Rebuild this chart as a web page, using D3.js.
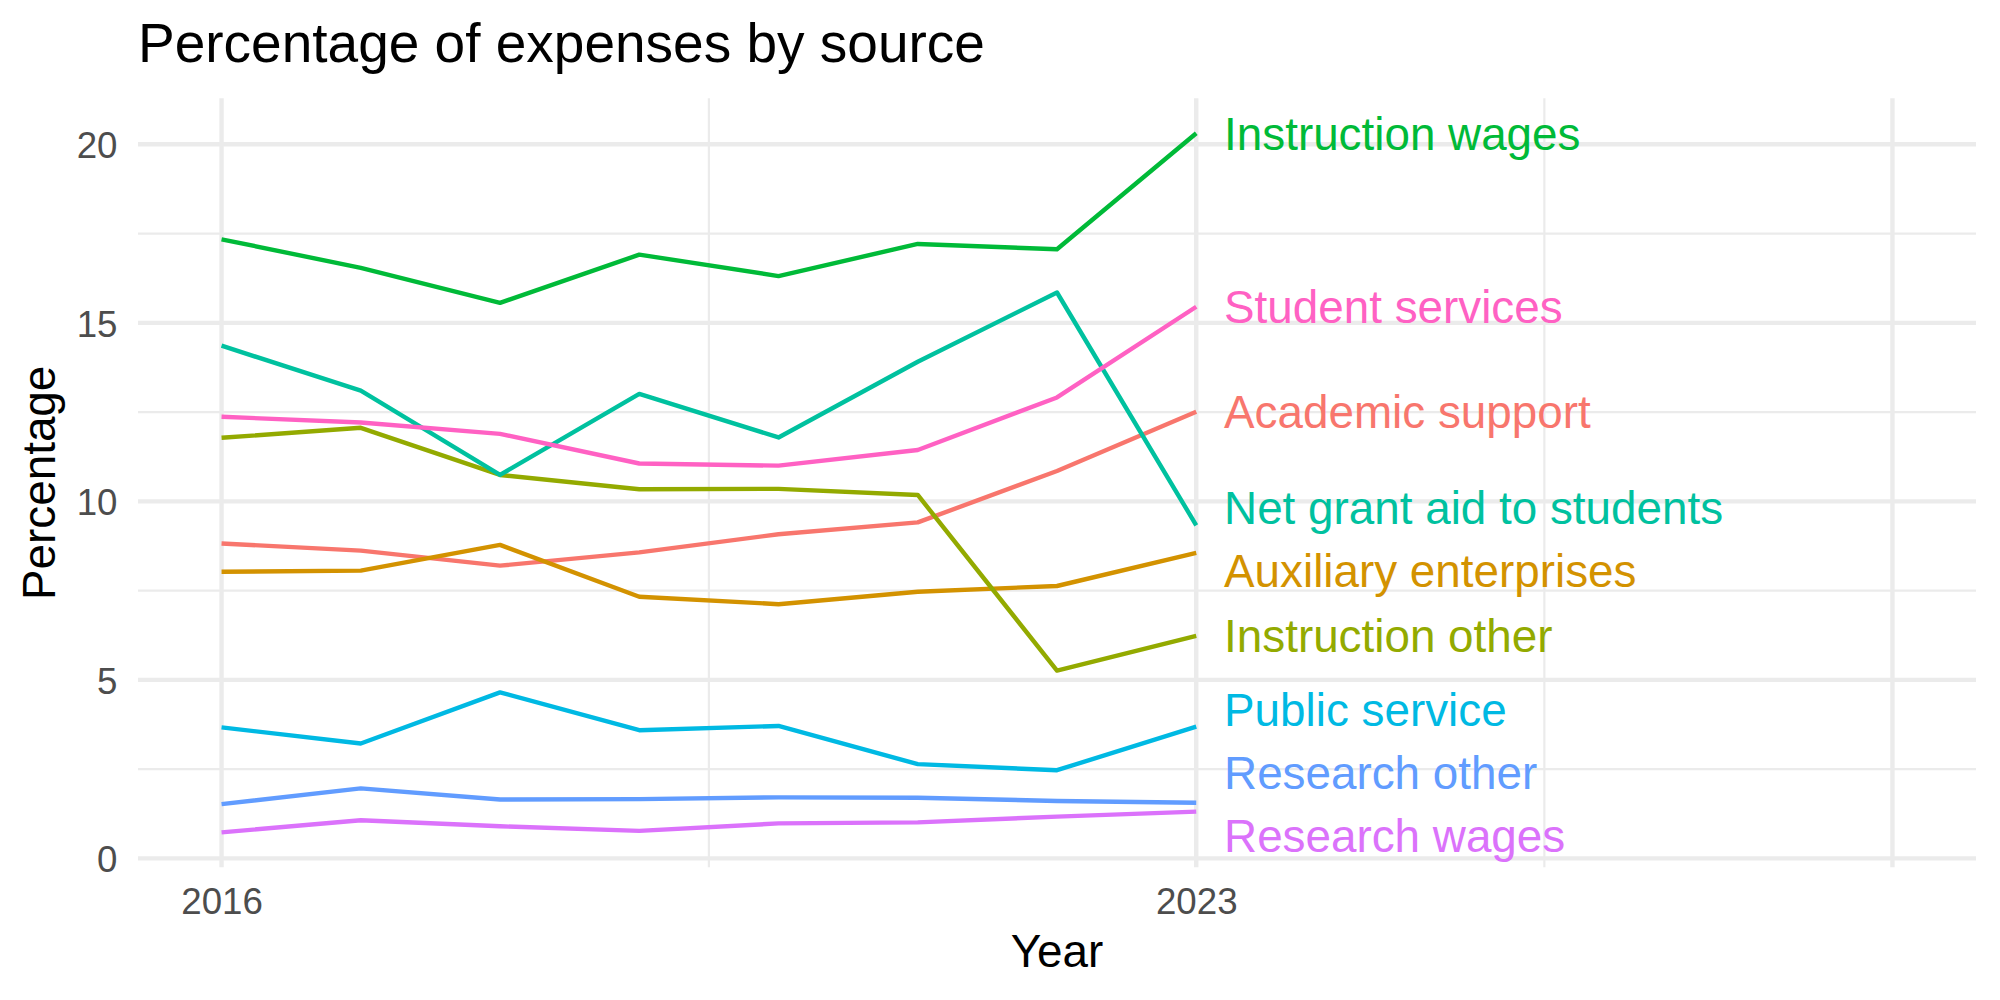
<!DOCTYPE html>
<html>
<head>
<meta charset="utf-8">
<script src="https://cdn.jsdelivr.net/npm/d3@7"></script>
<style>
  body { margin: 0; background: #fff; }
  svg text { font-family: "Liberation Sans", Arial, Helvetica, sans-serif; }
</style>
</head>
<body>
<div id="chart"></div>
<script>
// DATA
const years = [2016, 2017, 2018, 2019, 2020, 2021, 2022, 2023];

const categories = [
    "Academic support", "Auxiliary enterprises", "Instruction other",
    "Instruction wages", "Net grant aid to students", "Public service",
    "Research other", "Research wages", "Student services"
];

const academicSupport      = [8.82, 8.62, 8.20, 8.57, 9.08, 9.41, 10.85, 12.51];
const auxiliaryEnterprises = [8.03, 8.06, 8.78, 7.33, 7.12, 7.47, 7.63, 8.56];
const instructionOther     = [11.78, 12.06, 10.74, 10.34, 10.35, 10.18, 5.26, 6.23];
const instructionWages     = [17.34, 16.54, 15.56, 16.91, 16.31, 17.21, 17.06, 20.31];
const netGrantAid          = [14.36, 13.10, 10.74, 13.01, 11.79, 13.91, 15.85, 9.33];
const publicService        = [3.67, 3.22, 4.65, 3.59, 3.71, 2.64, 2.47, 3.69];
const researchOther        = [1.52, 1.96, 1.65, 1.66, 1.71, 1.70, 1.61, 1.56];
const researchWages        = [0.73, 1.07, 0.90, 0.77, 0.98, 1.01, 1.17, 1.31];
const studentServices      = [12.37, 12.21, 11.89, 11.06, 11.00, 11.44, 12.91, 15.45];

const seriesValues = [academicSupport, auxiliaryEnterprises, instructionOther,
    instructionWages, netGrantAid, publicService, researchOther, researchWages, studentServices];

const xBreaks = [2016, 2023, 2028];
const xTickLabels = ["2016", "2023", ""];
const xMinorBreaks = [2019.5, 2025.5];
const xLimits = [2016, 2028];
const yBreaks = [0, 5, 10, 15, 20];
const yMinorBreaks = [2.5, 7.5, 12.5, 17.5];

// ggplot default hue palette
const colors = ["#F8766D", "#D39200", "#93AA00", "#00BA38", "#00C19F",
    "#00B9E3", "#619CFF", "#DB72FB", "#FF61C3"];

const series = categories.map((name, i) => ({
    name: name,
    color: colors[i],
    values: years.map((yr, j) => ({ year: yr, value: seriesValues[i][j] }))
}));

// LAYOUT
const W = 2000, H = 1000;
const margin = { top: 98.3, right: 24, bottom: 132.7, left: 138 };

const svg = d3.select("#chart").append("svg")
    .attr("width", W)
    .attr("height", H);

// SCALES (5% expansion like ggplot)
const expand = (lo, hi) => [lo - 0.05 * (hi - lo), hi + 0.05 * (hi - lo)];

const x = d3.scaleLinear()
    .domain(expand(xLimits[0], xLimits[1]))
    .range([margin.left, W - margin.right]);

const allVals = seriesValues.flat();
const y = d3.scaleLinear()
    .domain(expand(d3.min(allVals), d3.max(allVals)))
    .range([H - margin.bottom, margin.top]);

const panelTop = y.range()[1], panelBottom = y.range()[0];
const panelLeft = x.range()[0], panelRight = x.range()[1];

// GRID
const grid = svg.append("g");
grid.selectAll(".ymin").data(yMinorBreaks).enter().append("line")
    .attr("x1", panelLeft).attr("x2", panelRight)
    .attr("y1", d => y(d)).attr("y2", d => y(d))
    .attr("stroke", "#EBEBEB").attr("stroke-width", 2.2);
grid.selectAll(".xmin").data(xMinorBreaks).enter().append("line")
    .attr("y1", panelTop).attr("y2", panelBottom)
    .attr("x1", d => x(d)).attr("x2", d => x(d))
    .attr("stroke", "#EBEBEB").attr("stroke-width", 2.2);
grid.selectAll(".ymaj").data(yBreaks).enter().append("line")
    .attr("x1", panelLeft).attr("x2", panelRight)
    .attr("y1", d => y(d)).attr("y2", d => y(d))
    .attr("stroke", "#EBEBEB").attr("stroke-width", 4.4);
grid.selectAll(".xmaj").data(xBreaks).enter().append("line")
    .attr("y1", panelTop).attr("y2", panelBottom)
    .attr("x1", d => x(d)).attr("x2", d => x(d))
    .attr("stroke", "#EBEBEB").attr("stroke-width", 4.4);

// AXES (no domain or ticks, theme_minimal)
const yAxis = svg.append("g")
    .attr("transform", "translate(" + panelLeft + ",0)")
    .call(d3.axisLeft(y).tickValues(yBreaks).tickSize(0).tickPadding(20.6));
yAxis.select(".domain").remove();
yAxis.selectAll("text")
    .attr("font-size", 36.67).attr("fill", "#4D4D4D")
    .attr("font-family", "Liberation Sans, Arial, sans-serif")
    .attr("dy", "0.36em");

const xAxis = svg.append("g")
    .attr("transform", "translate(0," + panelBottom + ")")
    .call(d3.axisBottom(x).tickValues(xBreaks)
        .tickFormat((d, i) => xTickLabels[i]).tickSize(0).tickPadding(20.6));
xAxis.select(".domain").remove();
xAxis.selectAll("text")
    .attr("font-size", 36.67).attr("fill", "#4D4D4D")
    .attr("font-family", "Liberation Sans, Arial, sans-serif")
    .attr("dy", "0.71em");

// LINES
const line = d3.line()
    .x(d => x(d.year))
    .y(d => y(d.value));

svg.append("g").selectAll("path")
    .data(series).enter().append("path")
    .attr("d", d => line(d.values))
    .attr("fill", "none")
    .attr("stroke", d => d.color)
    .attr("stroke-width", 4.4)
    .attr("stroke-linejoin", "round");

// LABELS with a simple repel on the last value
const labelGap = 63;
const halfBox = 32;
const labels = series.map(s => {
    const last = s.values[s.values.length - 1];
    return { name: s.name, color: s.color, x: x(last.year + 0.2), y: y(last.value) };
}).sort((a, b) => a.y - b.y);

for (let iter = 0; iter < 200; iter++) {
    for (let i = 1; i < labels.length; i++) {
        const gap = labels[i].y - labels[i - 1].y;
        if (gap < labelGap) {
            const push = (labelGap - gap) / 2;
            labels[i - 1].y -= push;
            labels[i].y += push;
        }
    }
    labels.forEach(l => {
        l.y = Math.max(panelTop + halfBox, Math.min(panelBottom - halfBox, l.y));
    });
}

svg.append("g").selectAll("text")
    .data(labels).enter().append("text")
    .attr("x", d => d.x)
    .attr("y", d => d.y)
    .attr("dy", "0.36em")
    .attr("font-size", 45.8)
    .attr("fill", d => d.color)
    .text(d => d.name);

// TITLES
svg.append("text")
    .attr("x", panelLeft)
    .attr("y", 62)
    .attr("font-size", 55)
    .attr("fill", "#000")
    .text("Percentage of expenses by source");

svg.append("text")
    .attr("x", (panelLeft + panelRight) / 2)
    .attr("y", 967)
    .attr("text-anchor", "middle")
    .attr("font-size", 45.8)
    .attr("fill", "#000")
    .text("Year");

svg.append("text")
    .attr("transform", "translate(55," + ((panelTop + panelBottom) / 2) + ") rotate(-90)")
    .attr("text-anchor", "middle")
    .attr("font-size", 45.8)
    .attr("fill", "#000")
    .text("Percentage");
</script>
</body>
</html>
